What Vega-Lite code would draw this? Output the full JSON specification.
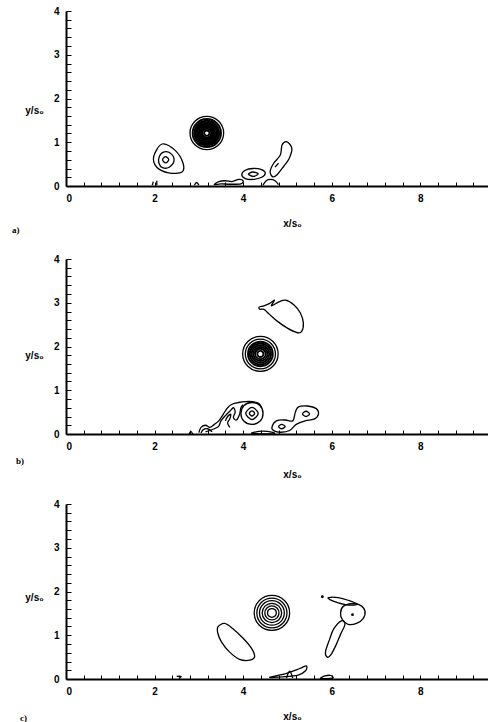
{
"$schema": "https://vega.github.io/schema/vega-lite/v6.json",
"padding": {"left": 12, "top": 6, "right": 0, "bottom": 0},
"background": "white",
"spacing": 20,
"config": {
  "view": {"stroke": null},
  "axis": {"domainColor": "black", "domainWidth": 2, "tickColor": "black", "tickWidth": 1, "labelFont": "Liberation Sans", "labelFontWeight": "bold", "labelFontSize": 10, "labelColor": "black", "titleFont": "Liberation Sans", "titleFontWeight": "bold", "titleFontSize": 10, "titleColor": "black", "grid": false, "labelOverlap": false, "tickCount": 100},
  "title": {"font": "Liberation Serif", "fontWeight": "bold", "fontSize": 9, "color": "black"},
  "line": {"stroke": "black", "strokeWidth": 1.3}
},
"datasets": {
"a": [
{"c":"a1","i":0,"x":3.56,"y":1.21},{"c":"a1","i":1,"x":3.449,"y":1.479},{"c":"a1","i":2,"x":3.18,"y":1.59},{"c":"a1","i":3,"x":2.911,"y":1.479},{"c":"a1","i":4,"x":2.8,"y":1.21},{"c":"a1","i":5,"x":2.911,"y":0.941},{"c":"a1","i":6,"x":3.18,"y":0.83},{"c":"a1","i":7,"x":3.449,"y":0.941},
{"c":"e1","i":0,"x":2.17,"y":0.96},{"c":"e1","i":1,"x":1.98,"y":0.67},{"c":"e1","i":2,"x":2.05,"y":0.43},{"c":"e1","i":3,"x":2.32,"y":0.3},{"c":"e1","i":4,"x":2.62,"y":0.32},{"c":"e1","i":5,"x":2.64,"y":0.53},{"c":"e1","i":6,"x":2.46,"y":0.82},
{"c":"e2","i":0,"x":2.44,"y":0.58},{"c":"e2","i":1,"x":2.37,"y":0.74},{"c":"e2","i":2,"x":2.22,"y":0.78},{"c":"e2","i":3,"x":2.11,"y":0.68},{"c":"e2","i":4,"x":2.1,"y":0.52},{"c":"e2","i":5,"x":2.18,"y":0.42},{"c":"e2","i":6,"x":2.33,"y":0.43},
{"c":"e3","i":0,"x":2.32,"y":0.6},{"c":"e3","i":1,"x":2.25,"y":0.67},{"c":"e3","i":2,"x":2.18,"y":0.6},{"c":"e3","i":3,"x":2.25,"y":0.53},
{"c":"f1","i":0,"x":3.97,"y":0.26},{"c":"f1","i":1,"x":4.05,"y":0.36},{"c":"f1","i":2,"x":4.22,"y":0.4},{"c":"f1","i":3,"x":4.4,"y":0.38},{"c":"f1","i":4,"x":4.5,"y":0.3},{"c":"f1","i":5,"x":4.42,"y":0.2},{"c":"f1","i":6,"x":4.22,"y":0.15},{"c":"f1","i":7,"x":4.05,"y":0.17},
{"c":"f2","i":0,"x":4.12,"y":0.27},{"c":"f2","i":1,"x":4.22,"y":0.32},{"c":"f2","i":2,"x":4.34,"y":0.28},{"c":"f2","i":3,"x":4.24,"y":0.22},
{"c":"g","i":0,"x":4.99,"y":1.01},{"c":"g","i":1,"x":5.1,"y":0.86},{"c":"g","i":2,"x":5.04,"y":0.63},{"c":"g","i":3,"x":4.91,"y":0.44},{"c":"g","i":4,"x":4.76,"y":0.25},{"c":"g","i":5,"x":4.67,"y":0.21},{"c":"g","i":6,"x":4.61,"y":0.33},{"c":"g","i":7,"x":4.69,"y":0.52},{"c":"g","i":8,"x":4.84,"y":0.71},{"c":"g","i":9,"x":4.88,"y":0.94},
{"c":"h","i":0,"x":3.35,"y":0.03},{"c":"h","i":1,"x":3.45,"y":0.1},{"c":"h","i":2,"x":3.6,"y":0.12},{"c":"h","i":3,"x":3.75,"y":0.1},{"c":"h","i":4,"x":3.9,"y":0.15},{"c":"h","i":5,"x":4.0,"y":0.12},{"c":"h","i":6,"x":3.95,"y":0.05},{"c":"h","i":7,"x":3.7,"y":0.04},{"c":"h","i":8,"x":3.5,"y":0.05}
],
"av": [
{"c":"a2","i":0,"x":3.5,"y":1.21},{"c":"a2","i":1,"x":3.406,"y":1.436},{"c":"a2","i":2,"x":3.18,"y":1.53},{"c":"a2","i":3,"x":2.954,"y":1.436},{"c":"a2","i":4,"x":2.86,"y":1.21},{"c":"a2","i":5,"x":2.954,"y":0.984},{"c":"a2","i":6,"x":3.18,"y":0.89},{"c":"a2","i":7,"x":3.406,"y":0.984},
{"c":"a3","i":0,"x":3.46,"y":1.21},{"c":"a3","i":1,"x":3.378,"y":1.408},{"c":"a3","i":2,"x":3.18,"y":1.49},{"c":"a3","i":3,"x":2.982,"y":1.408},{"c":"a3","i":4,"x":2.9,"y":1.21},{"c":"a3","i":5,"x":2.982,"y":1.012},{"c":"a3","i":6,"x":3.18,"y":0.93},{"c":"a3","i":7,"x":3.378,"y":1.012},
{"c":"a4","i":0,"x":3.43,"y":1.21},{"c":"a4","i":1,"x":3.357,"y":1.387},{"c":"a4","i":2,"x":3.18,"y":1.46},{"c":"a4","i":3,"x":3.003,"y":1.387},{"c":"a4","i":4,"x":2.93,"y":1.21},{"c":"a4","i":5,"x":3.003,"y":1.033},{"c":"a4","i":6,"x":3.18,"y":0.96},{"c":"a4","i":7,"x":3.357,"y":1.033},
{"c":"a5","i":0,"x":3.4,"y":1.21},{"c":"a5","i":1,"x":3.336,"y":1.366},{"c":"a5","i":2,"x":3.18,"y":1.43},{"c":"a5","i":3,"x":3.024,"y":1.366},{"c":"a5","i":4,"x":2.96,"y":1.21},{"c":"a5","i":5,"x":3.024,"y":1.054},{"c":"a5","i":6,"x":3.18,"y":0.99},{"c":"a5","i":7,"x":3.336,"y":1.054},
{"c":"a6","i":0,"x":3.37,"y":1.21},{"c":"a6","i":1,"x":3.314,"y":1.344},{"c":"a6","i":2,"x":3.18,"y":1.4},{"c":"a6","i":3,"x":3.046,"y":1.344},{"c":"a6","i":4,"x":2.99,"y":1.21},{"c":"a6","i":5,"x":3.046,"y":1.076},{"c":"a6","i":6,"x":3.18,"y":1.02},{"c":"a6","i":7,"x":3.314,"y":1.076},
{"c":"a7","i":0,"x":3.34,"y":1.21},{"c":"a7","i":1,"x":3.293,"y":1.323},{"c":"a7","i":2,"x":3.18,"y":1.37},{"c":"a7","i":3,"x":3.067,"y":1.323},{"c":"a7","i":4,"x":3.02,"y":1.21},{"c":"a7","i":5,"x":3.067,"y":1.097},{"c":"a7","i":6,"x":3.18,"y":1.05},{"c":"a7","i":7,"x":3.293,"y":1.097},
{"c":"a8","i":0,"x":3.31,"y":1.21},{"c":"a8","i":1,"x":3.272,"y":1.302},{"c":"a8","i":2,"x":3.18,"y":1.34},{"c":"a8","i":3,"x":3.088,"y":1.302},{"c":"a8","i":4,"x":3.05,"y":1.21},{"c":"a8","i":5,"x":3.088,"y":1.118},{"c":"a8","i":6,"x":3.18,"y":1.08},{"c":"a8","i":7,"x":3.272,"y":1.118},
{"c":"a9","i":0,"x":3.28,"y":1.21},{"c":"a9","i":1,"x":3.251,"y":1.281},{"c":"a9","i":2,"x":3.18,"y":1.31},{"c":"a9","i":3,"x":3.109,"y":1.281},{"c":"a9","i":4,"x":3.08,"y":1.21},{"c":"a9","i":5,"x":3.109,"y":1.139},{"c":"a9","i":6,"x":3.18,"y":1.11},{"c":"a9","i":7,"x":3.251,"y":1.139},
{"c":"a10","i":0,"x":3.24,"y":1.21},{"c":"a10","i":1,"x":3.222,"y":1.252},{"c":"a10","i":2,"x":3.18,"y":1.27},{"c":"a10","i":3,"x":3.138,"y":1.252},{"c":"a10","i":4,"x":3.12,"y":1.21},{"c":"a10","i":5,"x":3.138,"y":1.168},{"c":"a10","i":6,"x":3.18,"y":1.15},{"c":"a10","i":7,"x":3.222,"y":1.168}
],
"ao": [
{"c":"d","i":0,"x":4.45,"y":0.02},{"c":"d","i":1,"x":4.52,"y":0.12},{"c":"d","i":2,"x":4.62,"y":0.15},{"c":"d","i":3,"x":4.72,"y":0.12},{"c":"d","i":4,"x":4.8,"y":0.03},
{"c":"m","i":0,"x":4.72,"y":0.43},{"c":"m","i":1,"x":4.8,"y":0.52},
{"c":"s1","i":0,"x":1.95,"y":0.02},{"c":"s1","i":1,"x":1.97,"y":0.1},
{"c":"s2","i":0,"x":2.05,"y":0.02},{"c":"s2","i":1,"x":2.05,"y":0.12},
{"c":"s3","i":0,"x":2.9,"y":0.02},{"c":"s3","i":1,"x":2.95,"y":0.08},{"c":"s3","i":2,"x":3.0,"y":0.02}
],
"b": [
{"c":"b1","i":0,"x":4.79,"y":1.83},{"c":"b1","i":1,"x":4.673,"y":2.113},{"c":"b1","i":2,"x":4.39,"y":2.23},{"c":"b1","i":3,"x":4.107,"y":2.113},{"c":"b1","i":4,"x":3.99,"y":1.83},{"c":"b1","i":5,"x":4.107,"y":1.547},{"c":"b1","i":6,"x":4.39,"y":1.43},{"c":"b1","i":7,"x":4.673,"y":1.547},
{"c":"b2","i":0,"x":4.73,"y":1.83},{"c":"b2","i":1,"x":4.63,"y":2.07},{"c":"b2","i":2,"x":4.39,"y":2.17},{"c":"b2","i":3,"x":4.15,"y":2.07},{"c":"b2","i":4,"x":4.05,"y":1.83},{"c":"b2","i":5,"x":4.15,"y":1.59},{"c":"b2","i":6,"x":4.39,"y":1.49},{"c":"b2","i":7,"x":4.63,"y":1.59},
{"c":"u","i":0,"x":4.36,"y":2.9},{"c":"u","i":1,"x":4.47,"y":2.93},{"c":"u","i":2,"x":4.59,"y":2.98},{"c":"u","i":3,"x":4.71,"y":3.06},{"c":"u","i":4,"x":4.64,"y":2.93},{"c":"u","i":5,"x":4.81,"y":3.02},{"c":"u","i":6,"x":4.96,"y":3.06},{"c":"u","i":7,"x":5.15,"y":2.95},{"c":"u","i":8,"x":5.29,"y":2.77},{"c":"u","i":9,"x":5.36,"y":2.54},{"c":"u","i":10,"x":5.32,"y":2.34},{"c":"u","i":11,"x":5.21,"y":2.32},{"c":"u","i":12,"x":5.0,"y":2.42},{"c":"u","i":13,"x":4.77,"y":2.58},{"c":"u","i":14,"x":4.59,"y":2.74},{"c":"u","i":15,"x":4.47,"y":2.85},{"c":"u","i":16,"x":4.38,"y":2.85},
{"c":"r1","i":0,"x":4.45,"y":0.47},{"c":"r1","i":1,"x":4.38,"y":0.65},{"c":"r1","i":2,"x":4.2,"y":0.72},{"c":"r1","i":3,"x":4.02,"y":0.65},{"c":"r1","i":4,"x":3.95,"y":0.47},{"c":"r1","i":5,"x":4.02,"y":0.29},{"c":"r1","i":6,"x":4.2,"y":0.22},{"c":"r1","i":7,"x":4.38,"y":0.29},
{"c":"r2","i":0,"x":4.34,"y":0.47},{"c":"r2","i":1,"x":4.2,"y":0.61},{"c":"r2","i":2,"x":4.06,"y":0.47},{"c":"r2","i":3,"x":4.2,"y":0.33},
{"c":"r3","i":0,"x":4.26,"y":0.47},{"c":"r3","i":1,"x":4.2,"y":0.53},{"c":"r3","i":2,"x":4.14,"y":0.47},{"c":"r3","i":3,"x":4.2,"y":0.41},
{"c":"fo","i":0,"x":4.65,"y":0.15},{"c":"fo","i":1,"x":4.75,"y":0.3},{"c":"fo","i":2,"x":4.95,"y":0.32},{"c":"fo","i":3,"x":5.12,"y":0.3},{"c":"fo","i":4,"x":5.18,"y":0.5},{"c":"fo","i":5,"x":5.25,"y":0.62},{"c":"fo","i":6,"x":5.45,"y":0.64},{"c":"fo","i":7,"x":5.65,"y":0.58},{"c":"fo","i":8,"x":5.7,"y":0.45},{"c":"fo","i":9,"x":5.6,"y":0.34},{"c":"fo","i":10,"x":5.4,"y":0.3},{"c":"fo","i":11,"x":5.2,"y":0.22},{"c":"fo","i":12,"x":5.05,"y":0.08},{"c":"fo","i":13,"x":4.85,"y":0.04},{"c":"fo","i":14,"x":4.7,"y":0.07},
{"c":"fi1","i":0,"x":4.8,"y":0.17},{"c":"fi1","i":1,"x":4.87,"y":0.22},{"c":"fi1","i":2,"x":4.95,"y":0.17},{"c":"fi1","i":3,"x":4.87,"y":0.12},
{"c":"fi2","i":0,"x":5.5,"y":0.46},{"c":"fi2","i":1,"x":5.42,"y":0.52},{"c":"fi2","i":2,"x":5.34,"y":0.46},{"c":"fi2","i":3,"x":5.42,"y":0.4},
{"c":"bb","i":0,"x":4.2,"y":0.01},{"c":"bb","i":1,"x":4.35,"y":0.06},{"c":"bb","i":2,"x":4.55,"y":0.06},{"c":"bb","i":3,"x":4.7,"y":0.01}
],
"bv": [
{"c":"b3","i":0,"x":4.67,"y":1.83},{"c":"b3","i":1,"x":4.588,"y":2.028},{"c":"b3","i":2,"x":4.39,"y":2.11},{"c":"b3","i":3,"x":4.192,"y":2.028},{"c":"b3","i":4,"x":4.11,"y":1.83},{"c":"b3","i":5,"x":4.192,"y":1.632},{"c":"b3","i":6,"x":4.39,"y":1.55},{"c":"b3","i":7,"x":4.588,"y":1.632},
{"c":"b4","i":0,"x":4.63,"y":1.83},{"c":"b4","i":1,"x":4.56,"y":2.0},{"c":"b4","i":2,"x":4.39,"y":2.07},{"c":"b4","i":3,"x":4.22,"y":2.0},{"c":"b4","i":4,"x":4.15,"y":1.83},{"c":"b4","i":5,"x":4.22,"y":1.66},{"c":"b4","i":6,"x":4.39,"y":1.59},{"c":"b4","i":7,"x":4.56,"y":1.66},
{"c":"b5","i":0,"x":4.59,"y":1.83},{"c":"b5","i":1,"x":4.531,"y":1.971},{"c":"b5","i":2,"x":4.39,"y":2.03},{"c":"b5","i":3,"x":4.249,"y":1.971},{"c":"b5","i":4,"x":4.19,"y":1.83},{"c":"b5","i":5,"x":4.249,"y":1.689},{"c":"b5","i":6,"x":4.39,"y":1.63},{"c":"b5","i":7,"x":4.531,"y":1.689},
{"c":"b6","i":0,"x":4.55,"y":1.83},{"c":"b6","i":1,"x":4.503,"y":1.943},{"c":"b6","i":2,"x":4.39,"y":1.99},{"c":"b6","i":3,"x":4.277,"y":1.943},{"c":"b6","i":4,"x":4.23,"y":1.83},{"c":"b6","i":5,"x":4.277,"y":1.717},{"c":"b6","i":6,"x":4.39,"y":1.67},{"c":"b6","i":7,"x":4.503,"y":1.717},
{"c":"b7","i":0,"x":4.51,"y":1.83},{"c":"b7","i":1,"x":4.475,"y":1.915},{"c":"b7","i":2,"x":4.39,"y":1.95},{"c":"b7","i":3,"x":4.305,"y":1.915},{"c":"b7","i":4,"x":4.27,"y":1.83},{"c":"b7","i":5,"x":4.305,"y":1.745},{"c":"b7","i":6,"x":4.39,"y":1.71},{"c":"b7","i":7,"x":4.475,"y":1.745},
{"c":"b8","i":0,"x":4.46,"y":1.83},{"c":"b8","i":1,"x":4.439,"y":1.879},{"c":"b8","i":2,"x":4.39,"y":1.9},{"c":"b8","i":3,"x":4.341,"y":1.879},{"c":"b8","i":4,"x":4.32,"y":1.83},{"c":"b8","i":5,"x":4.341,"y":1.781},{"c":"b8","i":6,"x":4.39,"y":1.76},{"c":"b8","i":7,"x":4.439,"y":1.781}
],
"bo": [
{"c":"w1","i":0,"x":3.0,"y":0.03},{"c":"w1","i":1,"x":3.05,"y":0.15},{"c":"w1","i":2,"x":3.15,"y":0.2},{"c":"w1","i":3,"x":3.25,"y":0.15},{"c":"w1","i":4,"x":3.35,"y":0.22},{"c":"w1","i":5,"x":3.45,"y":0.3},{"c":"w1","i":6,"x":3.55,"y":0.45},{"c":"w1","i":7,"x":3.65,"y":0.6},{"c":"w1","i":8,"x":3.75,"y":0.68},{"c":"w1","i":9,"x":3.9,"y":0.72},{"c":"w1","i":10,"x":4.05,"y":0.74},{"c":"w1","i":11,"x":4.2,"y":0.74},{"c":"w1","i":12,"x":4.35,"y":0.7},{"c":"w1","i":13,"x":4.42,"y":0.6},
{"c":"w2","i":0,"x":3.15,"y":0.05},{"c":"w2","i":1,"x":3.25,"y":0.08},{"c":"w2","i":2,"x":3.35,"y":0.12},{"c":"w2","i":3,"x":3.45,"y":0.18},{"c":"w2","i":4,"x":3.5,"y":0.3},{"c":"w2","i":5,"x":3.6,"y":0.42},{"c":"w2","i":6,"x":3.7,"y":0.52},{"c":"w2","i":7,"x":3.78,"y":0.6},{"c":"w2","i":8,"x":3.82,"y":0.5},{"c":"w2","i":9,"x":3.78,"y":0.38},{"c":"w2","i":10,"x":3.85,"y":0.32},{"c":"w2","i":11,"x":3.92,"y":0.45},{"c":"w2","i":12,"x":3.95,"y":0.6},{"c":"w2","i":13,"x":4.0,"y":0.67},
{"c":"w3","i":0,"x":3.6,"y":0.3},{"c":"w3","i":1,"x":3.65,"y":0.4},{"c":"w3","i":2,"x":3.72,"y":0.45},{"c":"w3","i":3,"x":3.7,"y":0.35},{"c":"w3","i":4,"x":3.65,"y":0.25},{"c":"w3","i":5,"x":3.7,"y":0.15},
{"c":"w4","i":0,"x":3.05,"y":0.02},{"c":"w4","i":1,"x":3.1,"y":0.1},{"c":"w4","i":2,"x":3.2,"y":0.12},{"c":"w4","i":3,"x":3.3,"y":0.05},
{"c":"w5","i":0,"x":2.78,"y":0.0},{"c":"w5","i":1,"x":2.82,"y":0.06},{"c":"w5","i":2,"x":2.86,"y":0.0}
],
"c": [
{"c":"c1","i":0,"x":5.05,"y":1.51},{"c":"c1","i":1,"x":4.933,"y":1.793},{"c":"c1","i":2,"x":4.65,"y":1.91},{"c":"c1","i":3,"x":4.367,"y":1.793},{"c":"c1","i":4,"x":4.25,"y":1.51},{"c":"c1","i":5,"x":4.367,"y":1.227},{"c":"c1","i":6,"x":4.65,"y":1.11},{"c":"c1","i":7,"x":4.933,"y":1.227},
{"c":"c2","i":0,"x":4.99,"y":1.51},{"c":"c2","i":1,"x":4.89,"y":1.75},{"c":"c2","i":2,"x":4.65,"y":1.85},{"c":"c2","i":3,"x":4.41,"y":1.75},{"c":"c2","i":4,"x":4.31,"y":1.51},{"c":"c2","i":5,"x":4.41,"y":1.27},{"c":"c2","i":6,"x":4.65,"y":1.17},{"c":"c2","i":7,"x":4.89,"y":1.27},
{"c":"c3","i":0,"x":4.93,"y":1.51},{"c":"c3","i":1,"x":4.848,"y":1.708},{"c":"c3","i":2,"x":4.65,"y":1.79},{"c":"c3","i":3,"x":4.452,"y":1.708},{"c":"c3","i":4,"x":4.37,"y":1.51},{"c":"c3","i":5,"x":4.452,"y":1.312},{"c":"c3","i":6,"x":4.65,"y":1.23},{"c":"c3","i":7,"x":4.848,"y":1.312},
{"c":"c4","i":0,"x":4.87,"y":1.51},{"c":"c4","i":1,"x":4.806,"y":1.666},{"c":"c4","i":2,"x":4.65,"y":1.73},{"c":"c4","i":3,"x":4.494,"y":1.666},{"c":"c4","i":4,"x":4.43,"y":1.51},{"c":"c4","i":5,"x":4.494,"y":1.354},{"c":"c4","i":6,"x":4.65,"y":1.29},{"c":"c4","i":7,"x":4.806,"y":1.354},
{"c":"c5","i":0,"x":4.81,"y":1.51},{"c":"c5","i":1,"x":4.763,"y":1.623},{"c":"c5","i":2,"x":4.65,"y":1.67},{"c":"c5","i":3,"x":4.537,"y":1.623},{"c":"c5","i":4,"x":4.49,"y":1.51},{"c":"c5","i":5,"x":4.537,"y":1.397},{"c":"c5","i":6,"x":4.65,"y":1.35},{"c":"c5","i":7,"x":4.763,"y":1.397},
{"c":"c6","i":0,"x":4.75,"y":1.51},{"c":"c6","i":1,"x":4.721,"y":1.581},{"c":"c6","i":2,"x":4.65,"y":1.61},{"c":"c6","i":3,"x":4.579,"y":1.581},{"c":"c6","i":4,"x":4.55,"y":1.51},{"c":"c6","i":5,"x":4.579,"y":1.439},{"c":"c6","i":6,"x":4.65,"y":1.41},{"c":"c6","i":7,"x":4.721,"y":1.439},
{"c":"L","i":0,"x":3.43,"y":1.19},{"c":"L","i":1,"x":3.58,"y":1.27},{"c":"L","i":2,"x":3.77,"y":1.15},{"c":"L","i":3,"x":4.0,"y":0.93},{"c":"L","i":4,"x":4.19,"y":0.7},{"c":"L","i":5,"x":4.26,"y":0.51},{"c":"L","i":6,"x":4.15,"y":0.43},{"c":"L","i":7,"x":3.92,"y":0.45},{"c":"L","i":8,"x":3.69,"y":0.62},{"c":"L","i":9,"x":3.51,"y":0.85},{"c":"L","i":10,"x":3.43,"y":1.04},
{"c":"H","i":0,"x":6.26,"y":1.66},{"c":"H","i":1,"x":6.45,"y":1.72},{"c":"H","i":2,"x":6.64,"y":1.69},{"c":"H","i":3,"x":6.75,"y":1.56},{"c":"H","i":4,"x":6.71,"y":1.38},{"c":"H","i":5,"x":6.56,"y":1.27},{"c":"H","i":6,"x":6.37,"y":1.25},{"c":"H","i":7,"x":6.24,"y":1.36},{"c":"H","i":8,"x":6.2,"y":1.51},
{"c":"E","i":0,"x":5.93,"y":1.86},{"c":"E","i":1,"x":6.15,"y":1.86},{"c":"E","i":2,"x":6.37,"y":1.8},{"c":"E","i":3,"x":6.58,"y":1.71},{"c":"E","i":4,"x":6.38,"y":1.69},{"c":"E","i":5,"x":6.15,"y":1.74},{"c":"E","i":6,"x":5.97,"y":1.81},
{"c":"B","i":0,"x":6.22,"y":1.33},{"c":"B","i":1,"x":6.05,"y":1.15},{"c":"B","i":2,"x":5.95,"y":0.9},{"c":"B","i":3,"x":5.86,"y":0.62},{"c":"B","i":4,"x":5.9,"y":0.5},{"c":"B","i":5,"x":5.98,"y":0.55},{"c":"B","i":6,"x":6.1,"y":0.78},{"c":"B","i":7,"x":6.2,"y":1.02},{"c":"B","i":8,"x":6.3,"y":1.25},
{"c":"W","i":0,"x":4.6,"y":0.04},{"c":"W","i":1,"x":4.98,"y":0.13},{"c":"W","i":2,"x":5.28,"y":0.24},{"c":"W","i":3,"x":5.43,"y":0.3},{"c":"W","i":4,"x":5.41,"y":0.19},{"c":"W","i":5,"x":5.24,"y":0.09},{"c":"W","i":6,"x":4.9,"y":0.05},
{"c":"Z","i":0,"x":5.75,"y":0.01},{"c":"Z","i":1,"x":5.85,"y":0.07},{"c":"Z","i":2,"x":5.98,"y":0.08},{"c":"Z","i":3,"x":6.02,"y":0.02}
],
"co": [
{"c":"k1","i":0,"x":4.98,"y":0.02},{"c":"k1","i":1,"x":5.05,"y":0.18},{"c":"k1","i":2,"x":5.12,"y":0.02},
{"c":"k2","i":0,"x":2.5,"y":0.06},{"c":"k2","i":1,"x":2.6,"y":0.06},{"c":"k2","i":2,"x":2.55,"y":0.01}
],
"dots": [
{"x":6.47,"y":1.47},{"x":5.79,"y":1.88}
]
},
"vconcat": [
{
"spacing": 19,
"vconcat": [
{
 "width": 422, "height": 175,
 "title": {"text": "a)", "orient": "bottom", "anchor": "start", "frame": "group", "dx": -54, "offset": -2},
 "layer": [
  {"data": {"name": "a"}, "mark": {"type": "line", "interpolate": "cardinal-closed"},
   "encoding": {
    "x": {"field": "x", "type": "quantitative", "scale": {"domain": [0, 9.53], "nice": false},
      "axis": {"title": "x/s₀", "titleX": 226, "titlePadding": 15, "values": [0,0.4,0.8,1.2,1.6,2,2.4,2.8,3.2,3.6,4,4.4,4.8,5.2,5.6,6,6.4,6.8,7.2,7.6,8,8.4,8.8,9.2], "labelExpr": "datum.value % 2 === 0 ? format(datum.value, 'd') : ''", "tickSize": -4, "labelPadding": 11}},
    "y": {"field": "y", "type": "quantitative", "scale": {"domain": [0, 4], "nice": false},
      "axis": {"title": "y/s₀", "titleAngle": 0, "titleX": -32, "titleY": 99, "titleAlign": "center", "titleBaseline": "middle", "values": [0,0.2,0.4,0.6,0.8,1,1.2,1.4,1.6,1.8,2,2.2,2.4,2.6,2.8,3,3.2,3.4,3.6,3.8,4], "labelExpr": "datum.value % 1 === 0 ? format(datum.value, 'd') : ''", "tickSize": -5, "labelPadding": 12}},
    "detail": {"field": "c"}, "order": {"field": "i"}}},
  {"data": {"name": "av"}, "mark": {"type": "line", "interpolate": "cardinal-closed", "strokeWidth": 1.9},
   "encoding": {"x": {"field": "x", "type": "quantitative"}, "y": {"field": "y", "type": "quantitative"}, "detail": {"field": "c"}, "order": {"field": "i"}}},
  {"data": {"name": "ao"}, "mark": {"type": "line", "interpolate": "cardinal"},
   "encoding": {"x": {"field": "x", "type": "quantitative"}, "y": {"field": "y", "type": "quantitative"}, "detail": {"field": "c"}, "order": {"field": "i"}}}
 ]
},
{
 "width": 422, "height": 175,
 "title": {"text": "b)", "orient": "bottom", "anchor": "start", "frame": "group", "dx": -50, "offset": -22},
 "layer": [
  {"data": {"name": "b"}, "mark": {"type": "line", "interpolate": "cardinal-closed"},
   "encoding": {
    "x": {"field": "x", "type": "quantitative", "scale": {"domain": [0, 9.53], "nice": false},
      "axis": {"title": "x/s₀", "titleX": 226, "titlePadding": 18, "values": [0,0.4,0.8,1.2,1.6,2,2.4,2.8,3.2,3.6,4,4.4,4.8,5.2,5.6,6,6.4,6.8,7.2,7.6,8,8.4,8.8,9.2], "labelExpr": "datum.value % 2 === 0 ? format(datum.value, 'd') : ''", "tickSize": -4, "labelPadding": 11}},
    "y": {"field": "y", "type": "quantitative", "scale": {"domain": [0, 4], "nice": false},
      "axis": {"title": "y/s₀", "titleAngle": 0, "titleX": -32, "titleY": 96, "titleAlign": "center", "titleBaseline": "middle", "values": [0,0.2,0.4,0.6,0.8,1,1.2,1.4,1.6,1.8,2,2.2,2.4,2.6,2.8,3,3.2,3.4,3.6,3.8,4], "labelExpr": "datum.value % 1 === 0 ? format(datum.value, 'd') : ''", "tickSize": -5, "labelPadding": 12}},
    "detail": {"field": "c"}, "order": {"field": "i"}}},
  {"data": {"name": "bv"}, "mark": {"type": "line", "interpolate": "cardinal-closed", "strokeWidth": 1.9},
   "encoding": {"x": {"field": "x", "type": "quantitative"}, "y": {"field": "y", "type": "quantitative"}, "detail": {"field": "c"}, "order": {"field": "i"}}},
  {"data": {"name": "bo"}, "mark": {"type": "line", "interpolate": "cardinal"},
   "encoding": {"x": {"field": "x", "type": "quantitative"}, "y": {"field": "y", "type": "quantitative"}, "detail": {"field": "c"}, "order": {"field": "i"}}}
 ]
}
]
},
{
 "width": 422, "height": 175,
 "title": {"text": "c)", "orient": "bottom", "anchor": "start", "frame": "group", "dx": -46, "offset": -7},
 "layer": [
  {"data": {"name": "c"}, "mark": {"type": "line", "interpolate": "cardinal-closed"},
   "encoding": {
    "x": {"field": "x", "type": "quantitative", "scale": {"domain": [0, 9.53], "nice": false},
      "axis": {"title": "x/s₀", "titleX": 226, "titlePadding": 15, "values": [0,0.4,0.8,1.2,1.6,2,2.4,2.8,3.2,3.6,4,4.4,4.8,5.2,5.6,6,6.4,6.8,7.2,7.6,8,8.4,8.8,9.2], "labelExpr": "datum.value % 2 === 0 ? format(datum.value, 'd') : ''", "tickSize": -4, "labelPadding": 11}},
    "y": {"field": "y", "type": "quantitative", "scale": {"domain": [0, 4], "nice": false},
      "axis": {"title": "y/s₀", "titleAngle": 0, "titleX": -32, "titleY": 93, "titleAlign": "center", "titleBaseline": "middle", "values": [0,0.2,0.4,0.6,0.8,1,1.2,1.4,1.6,1.8,2,2.2,2.4,2.6,2.8,3,3.2,3.4,3.6,3.8,4], "labelExpr": "datum.value % 1 === 0 ? format(datum.value, 'd') : ''", "tickSize": -5, "labelPadding": 12}},
    "detail": {"field": "c"}, "order": {"field": "i"}}},
  {"data": {"name": "co"}, "mark": {"type": "line", "interpolate": "cardinal"},
   "encoding": {"x": {"field": "x", "type": "quantitative"}, "y": {"field": "y", "type": "quantitative"}, "detail": {"field": "c"}, "order": {"field": "i"}}},
  {"data": {"name": "dots"}, "mark": {"type": "point", "filled": true, "color": "black", "size": 8, "opacity": 1},
   "encoding": {"x": {"field": "x", "type": "quantitative"}, "y": {"field": "y", "type": "quantitative"}}}
 ]
}
]
}
